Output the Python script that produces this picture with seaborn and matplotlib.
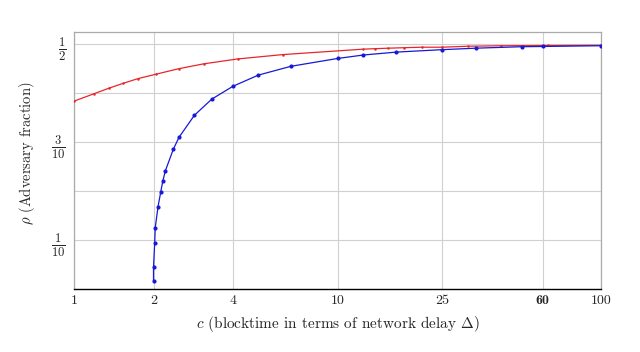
import numpy as np
import pandas as pd
import matplotlib
matplotlib.use('Agg')
import matplotlib.pyplot as plt
import seaborn as sns

# --- 資料 ---
blue_c = [2.0, 2.0, 2.02, 2.03, 2.08, 2.13, 2.17, 2.22, 2.38, 2.5, 2.86, 3.33, 4.0,
          5.0, 6.65, 10.0, 12.5, 16.7, 25.0, 33.5, 50.0, 60.0, 100.0]
blue_rho = [0.016, 0.045, 0.093, 0.125, 0.168, 0.198, 0.221, 0.242, 0.286, 0.310, 0.355,
            0.388, 0.414, 0.437, 0.455, 0.471, 0.478, 0.484, 0.489, 0.492, 0.495, 0.4955, 0.497]

red_c = [1.0, 1.19, 1.35, 1.53, 1.75, 2.05, 2.49, 3.10, 4.17, 6.22, 12.5, 13.9, 15.6,
         17.9, 20.9, 25.0, 31.3, 41.9, 62.7, 100.0]
red_rho = [0.384, 0.399, 0.410, 0.420, 0.430, 0.439, 0.450, 0.460, 0.470, 0.479, 0.490,
           0.491, 0.492, 0.493, 0.494, 0.494, 0.496, 0.497, 0.4975, 0.498]

x_ticks = [1, 2, 4, 10, 25, 60, 100]
y_ticks = [0.1, 0.2, 0.3, 0.4, 0.5]
y_tick_labels = [r'$\frac{1}{10}$', '', r'$\frac{3}{10}$', '', r'$\frac{1}{2}$']

# --- 全域設定 ---
sns.set_style('white')
plt.rcParams['font.family'] = 'serif'
plt.rcParams['font.serif'] = ['cmr10']
plt.rcParams['mathtext.fontset'] = 'cm'
plt.rcParams['axes.formatter.use_mathtext'] = True

fig = plt.figure(figsize=(6.4, 3.52), dpi=100)
ax = fig.add_axes([0.116, 0.179, 0.823, 0.730])

df_blue = pd.DataFrame({'c': blue_c, 'rho': blue_rho})
df_red = pd.DataFrame({'c': red_c, 'rho': red_rho})

# estimator=None 以免重複的 x 值被平均掉
sns.lineplot(data=df_red, x='c', y='rho', ax=ax, color='#e8262a', lw=0.9,
             marker='o', markersize=1.8, markeredgewidth=0, sort=False,
             estimator=None, zorder=3)
sns.lineplot(data=df_blue, x='c', y='rho', ax=ax, color='#1818d8', lw=0.9,
             marker='o', markersize=3.0, markeredgewidth=0, sort=False,
             estimator=None, zorder=4)

ax.set_xscale('log')
ax.set_xlim(1, 100)
ax.set_ylim(0, 0.525)

ax.set_xticks(x_ticks)
ax.set_xticklabels([str(t) for t in x_ticks])
ax.xaxis.set_minor_locator(matplotlib.ticker.NullLocator())
for lbl in ax.get_xticklabels():
    if lbl.get_text() == '60':
        lbl.set_fontname('cmb10')

ax.set_yticks(y_ticks)
ax.set_yticklabels(y_tick_labels)

ax.grid(True, color='#d0d0d0', lw=0.8)
ax.tick_params(axis='x', length=0, labelsize=10, pad=4)
ax.tick_params(axis='y', length=0, labelsize=13, pad=6)
for s in ['top', 'left', 'right']:
    ax.spines[s].set_color('#aaaaaa')
    ax.spines[s].set_linewidth(0.9)
ax.spines['bottom'].set_color('black')
ax.spines['bottom'].set_linewidth(1.0)

ax.set_xlabel(r'$c$ (blocktime in terms of network delay $\Delta$)', fontsize=11, labelpad=5)
ax.set_ylabel(r'$\rho$ (Adversary fraction)', fontsize=10.5, labelpad=8)
ax.yaxis.set_label_coords(-0.07, 0.53)

fig.savefig('out.png', dpi=100)
